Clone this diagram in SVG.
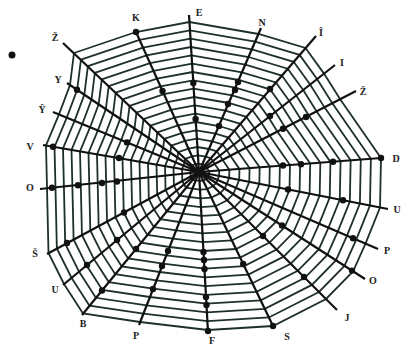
<svg xmlns="http://www.w3.org/2000/svg" xmlns:xlink="http://www.w3.org/1999/xlink" width="402" height="345" viewBox="0 0 402 345">
<style>
.ring{fill:none;stroke:#1f2e2e;stroke-width:1.8;vector-effect:non-scaling-stroke;stroke-linejoin:miter}
.spoke{stroke:#111;stroke-width:2.2;fill:none}
.dot{fill:#111}
.lbl{font-family:"Liberation Serif","DejaVu Serif",serif;font-weight:bold;font-size:10px;fill:#222;text-anchor:middle}
</style>
<defs>
<polygon id="ring" class="ring" points="-125,-119 -63,-140 -9.6,-150 59.5,-138 106.5,-124 125,-98.4 141,-73 182,-14 181,35.5 166.5,71.6 154,99.5 127,127 74,154 9,158 -59,150 -116,141.5 -135,112 -150.5,81 -152,15.3 -153,-26.5 -140,-57.6 -129,-87"/>
</defs>
<rect width="402" height="345" fill="#fff"/>
<g id="rings">
<use xlink:href="#ring" transform="translate(199 172) scale(0.0556)"/>
<use xlink:href="#ring" transform="translate(199 172) scale(0.1111)"/>
<use xlink:href="#ring" transform="translate(199 172) scale(0.1667)"/>
<use xlink:href="#ring" transform="translate(199 172) scale(0.2222)"/>
<use xlink:href="#ring" transform="translate(199 172) scale(0.2778)"/>
<use xlink:href="#ring" transform="translate(199 172) scale(0.3333)"/>
<use xlink:href="#ring" transform="translate(199 172) scale(0.3889)"/>
<use xlink:href="#ring" transform="translate(199 172) scale(0.4444)"/>
<use xlink:href="#ring" transform="translate(199 172) scale(0.5)"/>
<use xlink:href="#ring" transform="translate(199 172) scale(0.5556)"/>
<use xlink:href="#ring" transform="translate(199 172) scale(0.6111)"/>
<use xlink:href="#ring" transform="translate(199 172) scale(0.6667)"/>
<use xlink:href="#ring" transform="translate(199 172) scale(0.7222)"/>
<use xlink:href="#ring" transform="translate(199 172) scale(0.7778)"/>
<use xlink:href="#ring" transform="translate(199 172) scale(0.8333)"/>
<use xlink:href="#ring" transform="translate(199 172) scale(0.8889)"/>
<use xlink:href="#ring" transform="translate(199 172) scale(0.9444)"/>
<use xlink:href="#ring" transform="translate(199 172)"/>
</g>
<g id="connectors" class="spoke">
<line x1="199" y1="172" x2="63" y2="43"/>
<line x1="199" y1="172" x2="136" y2="32"/>
<line x1="199" y1="172" x2="189" y2="15"/>
<line x1="199" y1="172" x2="261" y2="28"/>
<line x1="199" y1="172" x2="316" y2="36"/>
<line x1="199" y1="172" x2="335" y2="65"/>
<line x1="199" y1="172" x2="356" y2="91"/>
<line x1="199" y1="172" x2="381" y2="158"/>
<line x1="199" y1="172" x2="388" y2="209"/>
<line x1="199" y1="172" x2="378" y2="249"/>
<line x1="199" y1="172" x2="365" y2="279"/>
<line x1="199" y1="172" x2="337" y2="310"/>
<line x1="199" y1="172" x2="273" y2="326"/>
<line x1="199" y1="172" x2="208" y2="332"/>
<line x1="199" y1="172" x2="139" y2="325"/>
<line x1="199" y1="172" x2="82" y2="315"/>
<line x1="199" y1="172" x2="63" y2="285"/>
<line x1="199" y1="172" x2="47" y2="254"/>
<line x1="199" y1="172" x2="40" y2="189"/>
<line x1="199" y1="172" x2="43" y2="145"/>
<line x1="199" y1="172" x2="53" y2="112"/>
<line x1="199" y1="172" x2="67" y2="83"/>
</g>
<g id="dots" class="dot">
<circle cx="12" cy="55" r="3.5"/>
<circle cx="136" cy="32" r="3.2"/><circle cx="162.5" cy="91" r="3.2"/>
<circle cx="193.3" cy="83" r="3.2"/><circle cx="195.6" cy="119" r="3.2"/>
<circle cx="238" cy="82" r="3.2"/><circle cx="235" cy="90" r="3.2"/><circle cx="228" cy="104" r="3.2"/><circle cx="219" cy="126" r="3.2"/>
<circle cx="270" cy="89" r="3.2"/>
<circle cx="270" cy="116" r="3.2"/>
<circle cx="306" cy="117" r="3.2"/><circle cx="283" cy="128.7" r="3.2"/>
<circle cx="283" cy="165.5" r="3.2"/><circle cx="301" cy="164.2" r="3.2"/><circle cx="333" cy="161.7" r="3.2"/><circle cx="381" cy="158" r="3.2"/>
<circle cx="288" cy="189.4" r="3.2"/><circle cx="343" cy="200.2" r="3.2"/>
<circle cx="353" cy="238.3" r="3.2"/>
<circle cx="282" cy="225.5" r="3.2"/><circle cx="352" cy="270.6" r="3.2"/>
<circle cx="263" cy="236" r="3.2"/><circle cx="304" cy="277" r="3.2"/>
<circle cx="243.2" cy="264" r="3.2"/><circle cx="273" cy="326" r="3.2"/>
<circle cx="203.5" cy="252" r="3.2"/><circle cx="204" cy="260" r="3.2"/><circle cx="204.5" cy="269" r="3.2"/><circle cx="206" cy="297" r="3.2"/><circle cx="206.5" cy="305" r="3.2"/><circle cx="208" cy="331" r="3.2"/>
<circle cx="168" cy="251" r="3.2"/><circle cx="162" cy="266" r="3.2"/><circle cx="153" cy="289" r="3.2"/>
<circle cx="136" cy="249" r="3.2"/><circle cx="102" cy="290.5" r="3.2"/>
<circle cx="117" cy="240" r="3.2"/><circle cx="87" cy="265" r="3.2"/>
<circle cx="124" cy="212.5" r="3.2"/><circle cx="67" cy="243" r="3.2"/>
<circle cx="52" cy="187.7" r="3.2"/><circle cx="78" cy="185.3" r="3.2"/><circle cx="102" cy="183" r="3.2"/><circle cx="117" cy="181.5" r="3.2"/>
<circle cx="53" cy="146.7" r="3.2"/><circle cx="119" cy="158" r="3.2"/>
<circle cx="127" cy="142.4" r="3.2"/>
<circle cx="77" cy="89.8" r="3.2"/>
<circle cx="199" cy="172" r="3.5"/>
</g>
<g id="label-Z1"><text class="lbl" x="55" y="41">Ž</text></g>
<g id="label-K"><text class="lbl" x="136" y="21">K</text></g>
<g id="label-E"><text class="lbl" x="199" y="16">E</text></g>
<g id="label-N"><text class="lbl" x="262" y="26">N</text></g>
<g id="label-I1"><text class="lbl" x="321" y="36">Î</text></g>
<g id="label-I2"><text class="lbl" x="342" y="66">I</text></g>
<g id="label-Z2"><text class="lbl" x="363" y="95">Ž</text></g>
<g id="label-D"><text class="lbl" x="396" y="162">D</text></g>
<g id="label-U1"><text class="lbl" x="397" y="213">U</text></g>
<g id="label-P1"><text class="lbl" x="387" y="254">P</text></g>
<g id="label-O1"><text class="lbl" x="373" y="284">O</text></g>
<g id="label-J"><text class="lbl" x="347" y="321">J</text></g>
<g id="label-S1"><text class="lbl" x="287" y="340">S</text></g>
<g id="label-F"><text class="lbl" x="212" y="343.5">F</text></g>
<g id="label-P2"><text class="lbl" x="136" y="339">P</text></g>
<g id="label-B"><text class="lbl" x="83" y="327">B</text></g>
<g id="label-U2"><text class="lbl" x="55" y="293">U</text></g>
<g id="label-S2"><text class="lbl" x="35" y="257">Š</text></g>
<g id="label-O2"><text class="lbl" x="30" y="191">O</text></g>
<g id="label-V"><text class="lbl" x="30" y="150">V</text></g>
<g id="label-Y1"><text class="lbl" x="42" y="113">Ŷ</text></g>
<g id="label-Y2"><text class="lbl" x="58" y="83">Y</text></g>
</svg>
